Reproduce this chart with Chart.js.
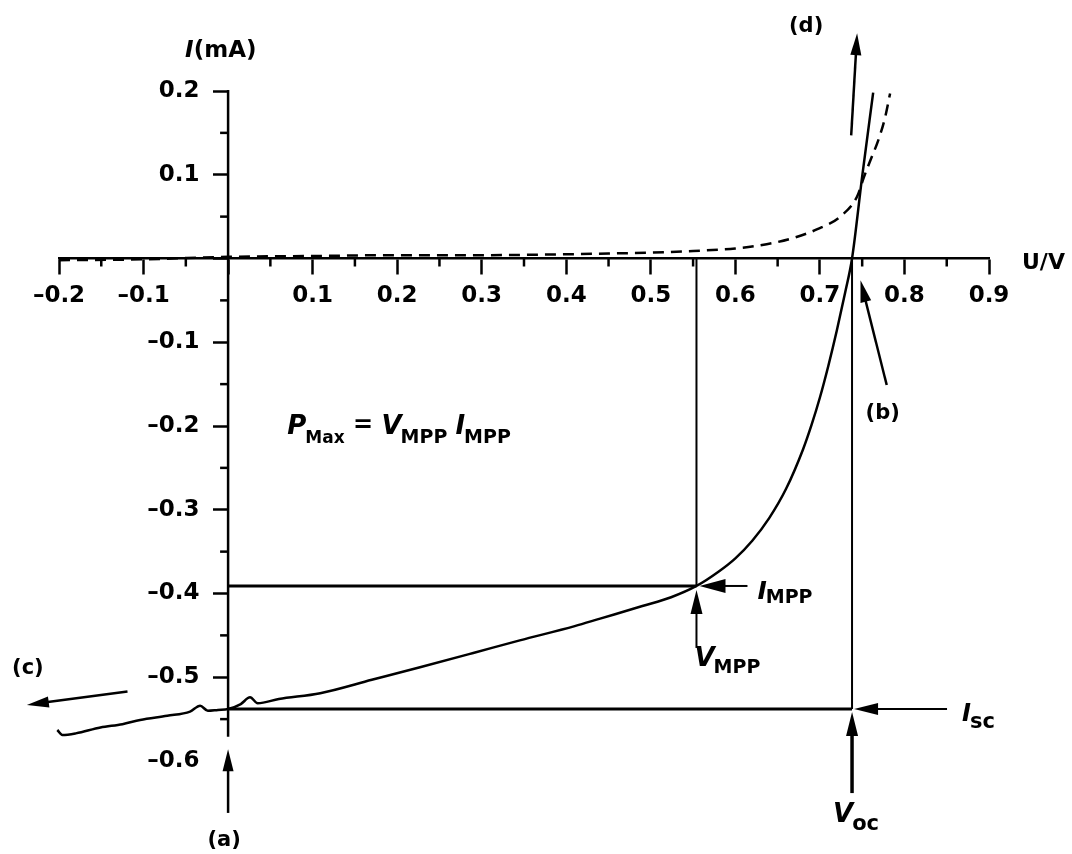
<!DOCTYPE html>
<html>
<head>
<meta charset="utf-8">
<title>Solar cell I–U characteristic</title>
<script src="https://cdn.jsdelivr.net/npm/chart.js@4.4.1/dist/chart.umd.min.js"></script>
<style>
  html, body { margin: 0; padding: 0; background: #fff; }
</style>
</head>
<body>
<canvas id="ivChart" width="1072" height="854"></canvas>
<script>
// illuminated cell (solid curve), U in V, I in mA
const lightU = [-0.202, -0.196, -0.18, -0.151, -0.125, -0.104, -0.072, -0.045, -0.033, -0.024, -0.012, 0,
                0.015, 0.026, 0.035, 0.06, 0.109, 0.17, 0.227, 0.29, 0.345, 0.41, 0.44, 0.49, 0.524, 0.554,
                0.58, 0.60, 0.62, 0.64, 0.66, 0.68, 0.69, 0.70, 0.71, 0.72, 0.73, 0.738, 0.75, 0.763];
const lightI = [-0.563, -0.569, -0.567, -0.560, -0.556, -0.551, -0.546, -0.541, -0.534, -0.540, -0.539, -0.538,
                -0.532, -0.524, -0.531, -0.526, -0.519, -0.503, -0.488, -0.471, -0.456, -0.439, -0.430, -0.415, -0.4045, -0.391,
                -0.374, -0.358, -0.337, -0.310, -0.275, -0.228, -0.199, -0.166, -0.128, -0.086, -0.040, 0, 0.098, 0.198];

// dark cell (dashed curve)
const darkU = [-0.2, -0.1, 0, 0.1, 0.2, 0.3, 0.4, 0.45, 0.5, 0.55, 0.6, 0.637, 0.67, 0.697, 0.724,
               0.744, 0.752, 0.76, 0.769, 0.777, 0.783];
const darkI = [-0.002, -0.001, 0.002, 0.003, 0.004, 0.004, 0.005, 0.006, 0.007, 0.009, 0.012, 0.017, 0.025, 0.035, 0.050,
               0.074, 0.097, 0.118, 0.141, 0.168, 0.197];

// characteristic points
const vMpp = 0.554, iMpp = -0.391;
const vOc = 0.738, iSc = -0.538;

const uRange = [-0.2, 0.9];
const iRange = [-0.6, 0.2];
const uMinor = [-0.15, -0.05, 0.05, 0.15, 0.25, 0.35, 0.45, 0.55, 0.65, 0.75, 0.85];
const iMinor = [0.15, 0.05, -0.05, -0.15, -0.25, -0.35, -0.45, -0.55];

// arrows marking the branches (a)-(d): tail and tip in U/I units
const pointers = [
    { name: '(a)', from: [0, -0.662], to: [0, -0.586] },
    { name: '(b)', from: [0.779, -0.151], to: [0.748, -0.026] },
    { name: '(c)', from: [-0.119, -0.517], to: [-0.238, -0.533] },
    { name: '(d)', from: [0.737, 0.147], to: [0.744, 0.269] }
];

const FONT = '"DejaVu Sans", sans-serif';

const toPoints = (us, is) => us.map((u, k) => ({ x: u, y: is[k] }));
const tickText = v => Math.abs(v) < 1e-9 ? '' : v.toFixed(1).replace('-', '\u2013');
// centred y axis puts its labels right on the line, so pad them on the right
const yTickText = v => {
    const t = tickText(v);
    return t ? t + '   \u2009' : '';
};

function arrow(ctx, x1, y1, x2, y2, head, half, width) {
    const a = Math.atan2(y2 - y1, x2 - x1);
    const c = Math.cos(a), s = Math.sin(a);
    ctx.lineWidth = width;
    ctx.beginPath();
    ctx.moveTo(x1, y1);
    ctx.lineTo(x2 - c * head * 0.7, y2 - s * head * 0.7);
    ctx.stroke();
    ctx.beginPath();
    ctx.moveTo(x2, y2);
    ctx.lineTo(x2 - c * head + s * half, y2 - s * head - c * half);
    ctx.lineTo(x2 - c * head - s * half, y2 - s * head + c * half);
    ctx.closePath();
    ctx.fill();
}

// main symbol in oblique, index a little smaller and lower
function symbol(ctx, x, y, main, sub, size, subSize, drop) {
    ctx.textAlign = 'left';
    ctx.font = 'italic bold ' + size + 'px ' + FONT;
    ctx.fillText(main, x, y);
    const w = ctx.measureText(main).width;
    ctx.font = 'bold ' + subSize + 'px ' + FONT;
    ctx.fillText(sub, x + w - 1, y + drop);
    return x + w - 1 + ctx.measureText(sub).width;
}

const annotate = {
    id: 'annotate',
    afterDatasetsDraw(chart) {
        const { ctx, scales: { x, y } } = chart;
        const px = v => x.getPixelForValue(v);
        const py = v => y.getPixelForValue(v);
        const ox = px(0), oy = py(0);

        ctx.save();
        ctx.strokeStyle = '#000';
        ctx.fillStyle = '#000';
        ctx.lineCap = 'butt';

        // current axis stops just below the short-circuit point
        ctx.lineWidth = 2.5;
        ctx.beginPath();
        ctx.moveTo(ox, py(0.2) - 1);
        ctx.lineTo(ox, py(-0.571));
        ctx.stroke();

        // half-step ticks
        uMinor.forEach(u => {
            ctx.beginPath();
            ctx.moveTo(px(u), oy);
            ctx.lineTo(px(u), oy + 8);
            ctx.stroke();
        });
        iMinor.forEach(i => {
            ctx.beginPath();
            ctx.moveTo(ox, py(i));
            ctx.lineTo(ox - 8, py(i));
            ctx.stroke();
        });

        // branch arrows and labels
        const pos = {};
        pointers.forEach(p => {
            const x1 = px(p.from[0]), y1 = py(p.from[1]);
            const x2 = px(p.to[0]), y2 = py(p.to[1]);
            arrow(ctx, x1, y1, x2, y2, 22, 5.5, 2.5);
            pos[p.name] = { tail: [x1, y1], tip: [x2, y2] };
        });
        ctx.font = 'bold 21px ' + FONT;
        ctx.textAlign = 'center';
        ctx.fillText('(a)', pos['(a)'].tail[0] - 4, pos['(a)'].tail[1] + 33);
        ctx.fillText('(b)', pos['(b)'].tail[0] - 4, pos['(b)'].tail[1] + 34);
        ctx.fillText('(c)', pos['(c)'].tip[0] + 1, pos['(c)'].tip[1] - 31);
        ctx.fillText('(d)', pos['(d)'].tip[0] - 51, pos['(d)'].tip[1] - 1);

        // maximum power point
        const mx = px(vMpp), my = py(iMpp);
        arrow(ctx, mx + 51, my, mx + 3, my, 26, 7, 2);
        arrow(ctx, mx, my + 62, mx, my + 4, 24, 6, 2);
        symbol(ctx, mx + 61, my + 13, 'I', 'MPP', 25, 19, 4);
        symbol(ctx, mx - 2, my + 80, 'V', 'MPP', 26, 19, 7);

        // open circuit / short circuit
        const cx = px(vOc), sy = py(iSc);
        arrow(ctx, cx + 95, sy, cx + 2, sy, 24, 6, 2);
        arrow(ctx, cx, sy + 84, cx, sy + 3, 24, 6, 3.5);
        symbol(ctx, cx + 110, sy + 12, 'I', 'sc', 24, 21, 7);
        symbol(ctx, cx - 19, sy + 113, 'V', 'oc', 26, 21, 8);

        // P_Max = V_MPP I_MPP
        let tx = px(0.07), ty = py(-0.21);
        tx = symbol(ctx, tx, ty, 'P', 'Max', 26, 17, 9);
        ctx.font = 'bold 24px ' + FONT;
        ctx.fillText(' = ', tx, ty - 2);
        tx += ctx.measureText(' = ').width;
        tx = symbol(ctx, tx, ty, 'V', 'MPP', 26, 19, 9);
        symbol(ctx, tx + 8, ty, 'I', 'MPP', 26, 19, 9);

        // axis titles
        ctx.textAlign = 'left';
        ctx.font = 'italic bold 23px ' + FONT;
        ctx.fillText('I', ox - 43, py(0.2) - 34);
        const iw = ctx.measureText('I').width;
        ctx.font = 'bold 23px ' + FONT;
        ctx.fillText('(mA)', ox - 43 + iw, py(0.2) - 34);
        ctx.font = 'bold 22px ' + FONT;
        ctx.fillText('U/V', px(0.9) + 33, oy + 10);

        ctx.restore();
    }
};

const lineStyle = { showLine: true, borderColor: '#000', pointRadius: 0, clip: false };

new Chart(document.getElementById('ivChart'), {
    type: 'scatter',
    data: {
        datasets: [
            Object.assign({ label: 'I_MPP', data: [{ x: 0, y: iMpp }, { x: vMpp, y: iMpp }], borderWidth: 3 }, lineStyle),
            Object.assign({ label: 'V_MPP', data: [{ x: vMpp, y: 0 }, { x: vMpp, y: iMpp }], borderWidth: 2 }, lineStyle),
            Object.assign({ label: 'I_sc', data: [{ x: 0, y: iSc }, { x: vOc, y: iSc }], borderWidth: 3 }, lineStyle),
            Object.assign({ label: 'V_oc', data: [{ x: vOc, y: 0 }, { x: vOc, y: iSc }], borderWidth: 2 }, lineStyle),
            Object.assign({ label: 'dark', data: toPoints(darkU, darkI), borderWidth: 2.5,
                borderDash: [11, 7], cubicInterpolationMode: 'monotone' }, lineStyle),
            Object.assign({ label: 'illuminated', data: toPoints(lightU, lightI), borderWidth: 2.5,
                cubicInterpolationMode: 'monotone' }, lineStyle)
        ]
    },
    options: {
        responsive: false,
        animation: false,
        layout: { padding: { left: 59, right: 83, top: 91, bottom: 93 } },
        font: { family: FONT },
        plugins: { legend: { display: false }, tooltip: { enabled: false } },
        scales: {
            x: {
                type: 'linear',
                min: uRange[0],
                max: uRange[1],
                position: { y: 0 },
                border: { display: true, color: '#000', width: 2.5 },
                grid: { drawOnChartArea: false, drawTicks: true, tickLength: 15, tickWidth: 2.5, tickColor: '#000' },
                ticks: {
                    stepSize: 0.1, autoSkip: false, maxRotation: 0, padding: 9,
                    color: '#000', font: { family: FONT, size: 23, weight: 'bold' },
                    callback: tickText
                }
            },
            y: {
                type: 'linear',
                min: iRange[0],
                max: iRange[1],
                position: { x: 0 },
                border: { display: false },
                grid: {
                    drawOnChartArea: false, drawTicks: true, tickLength: 15, tickWidth: 2.5,
                    tickColor: c => (Math.abs(c.tick.value - iRange[0]) < 1e-9 ? 'rgba(0,0,0,0)' : '#000')
                },
                ticks: {
                    stepSize: 0.1, autoSkip: false, padding: 14,
                    color: '#000', font: { family: FONT, size: 23, weight: 'bold' },
                    callback: yTickText
                }
            }
        }
    },
    plugins: [annotate]
});
</script>
</body>
</html>
